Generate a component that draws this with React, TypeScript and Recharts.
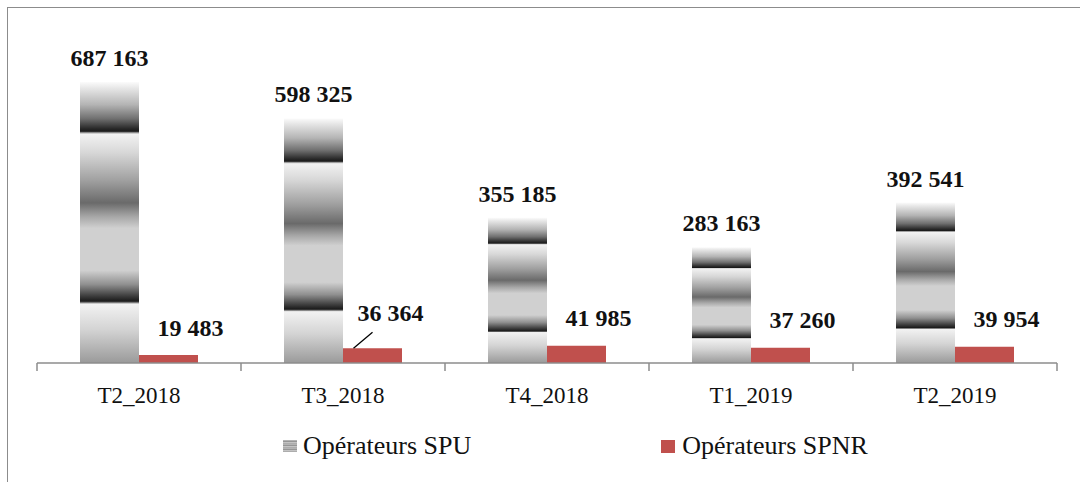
import React from "react";
import { BarChart, Bar, XAxis, YAxis, LabelList } from "recharts";

const categories = ["T2_2018", "T3_2018", "T4_2018", "T1_2019", "T2_2019"];
const spuValues = [687163, 598325, 355185, 283163, 392541];
const spnrValues = [19483, 36364, 41985, 37260, 39954];
const seriesNames = ["Opérateurs SPU", "Opérateurs SPNR"];

const data = categories.map((c, i) => ({ cat: c, spu: spuValues[i], spnr: spnrValues[i] }));

const W = 1080;
const H = 482;
const M = { top: 36, right: 23, bottom: 59, left: 37 };
const BAND = (W - M.left - M.right) / categories.length;
const FONT = '"Liberation Serif", Tinos, "Times New Roman", Times, "DejaVu Serif", serif';
const AXIS_COLOR = "#8c8c8c";
const RED = "#c0504d";
const LEADER_INDEX = 1;

const fmt = (v: number) => {
  const s = String(v);
  return s.replace(/\B(?=(\d{3})+(?!\d))/g, " ");
};

const Tick = (props: any) => {
  const { x, y, payload, index } = props;
  const ay = y - 8;
  const half = BAND / 2;
  return (
    <g>
      <line x1={x - half} y1={ay} x2={x - half} y2={ay + 8} stroke={AXIS_COLOR} strokeWidth={1.5} />
      {index === categories.length - 1 && (
        <line x1={x + half} y1={ay} x2={x + half} y2={ay + 8} stroke={AXIS_COLOR} strokeWidth={1.5} />
      )}
      <text x={x} y={ay + 40} textAnchor="middle" style={{ fontFamily: FONT }} fontSize={23} fill="#111">
        {payload.value}
      </text>
    </g>
  );
};

const SpuLabel = (props: any) => {
  const { x, y, width, value } = props;
  return (
    <text x={x + width / 2} y={y - 16} textAnchor="middle" style={{ fontFamily: FONT }} fontSize={24} fontWeight="bold" fill="#111">
      {fmt(value)}
    </text>
  );
};

const SpnrLabel = (props: any) => {
  const { x, y, width, value, index } = props;
  const cx = x + width / 2;
  if (index === LEADER_INDEX) {
    return (
      <g>
        <line x1={cx - 19} y1={y} x2={cx} y2={y - 16} stroke="#000" strokeWidth={1.3} />
        <text x={cx + 18} y={y - 27} textAnchor="middle" style={{ fontFamily: FONT }} fontSize={24} fontWeight="bold" fill="#111">
          {fmt(value)}
        </text>
      </g>
    );
  }
  return (
    <text x={cx + 22} y={y - 19.5} textAnchor="middle" style={{ fontFamily: FONT }} fontSize={24} fontWeight="bold" fill="#111">
      {fmt(value)}
    </text>
  );
};

const stops: [number, string][] = [
  [0, "#fbfbfb"],
  [0.02, "#e8e8e8"],
  [0.08, "#b4b4b4"],
  [0.13, "#707070"],
  [0.165, "#2a2a2a"],
  [0.175, "#1a1a1a"],
  [0.18, "#9a9a9a"],
  [0.185, "#f2f2f2"],
  [0.25, "#d8d8d8"],
  [0.35, "#a0a0a0"],
  [0.43, "#6a6a6a"],
  [0.48, "#a8a8a8"],
  [0.52, "#d0d0d0"],
  [0.67, "#d0d0d0"],
  [0.72, "#909090"],
  [0.76, "#404040"],
  [0.78, "#1a1a1a"],
  [0.785, "#808080"],
  [0.79, "#f2f2f2"],
  [0.88, "#d4d4d4"],
  [1, "#9a9a9a"],
];

const StripeIcon = () => (
  <svg width={14} height={13} style={{ display: "block" }}>
    {[0, 1, 2, 3, 4, 5].map((i) => (
      <rect key={i} x={0} y={i * 2 + 0.5} width={14} height={1.2} fill={i % 2 ? "#8a8a8a" : "#6a6a6a"} />
    ))}
  </svg>
);

export default function App() {
  return (
    <div style={{ position: "absolute", left: 0, top: 0, width: W, height: H, background: "#fff", overflow: "hidden", fontFamily: FONT }}>
      <div
        style={{
          position: "absolute",
          left: 7,
          top: 7,
          width: W,
          height: H,
          borderTop: "1.5px solid #8c8c8c",
          borderLeft: "1.5px solid #8c8c8c",
        }}
      />
      <div style={{ position: "absolute", left: 0, top: 0 }}>
        <BarChart width={W} height={H} data={data} margin={M} barGap={0} barSize={59}>
          <defs>
            <linearGradient id="spuGrad" x1="0" y1="0" x2="0" y2="1">
              {stops.map(([o, c], i) => (
                <stop key={i} offset={o} stopColor={c} />
              ))}
            </linearGradient>
          </defs>
          <YAxis hide domain={[0, 800000]} />
          <XAxis
            dataKey="cat"
            height={60}
            axisLine={{ stroke: AXIS_COLOR, strokeWidth: 1.5 }}
            tickLine={false}
            tick={<Tick />}
            interval={0}
          />
          <Bar dataKey="spu" name={seriesNames[0]} fill="url(#spuGrad)" isAnimationActive={false}>
            <LabelList dataKey="spu" content={<SpuLabel />} />
          </Bar>
          <Bar dataKey="spnr" name={seriesNames[1]} fill={RED} isAnimationActive={false}>
            <LabelList dataKey="spnr" content={<SpnrLabel />} />
          </Bar>
        </BarChart>
      </div>
      <div
        style={{
          position: "absolute",
          top: 431,
          left: 283,
          display: "flex",
          alignItems: "center",
          fontFamily: FONT,
          fontSize: 26,
          color: "#111",
        }}
      >
        <StripeIcon />
        <span style={{ marginLeft: 6 }}>{seriesNames[0]}</span>
        <div style={{ width: 14, height: 13, background: RED, marginLeft: 190 }} />
        <span style={{ marginLeft: 7 }}>{seriesNames[1]}</span>
      </div>
    </div>
  );
}
